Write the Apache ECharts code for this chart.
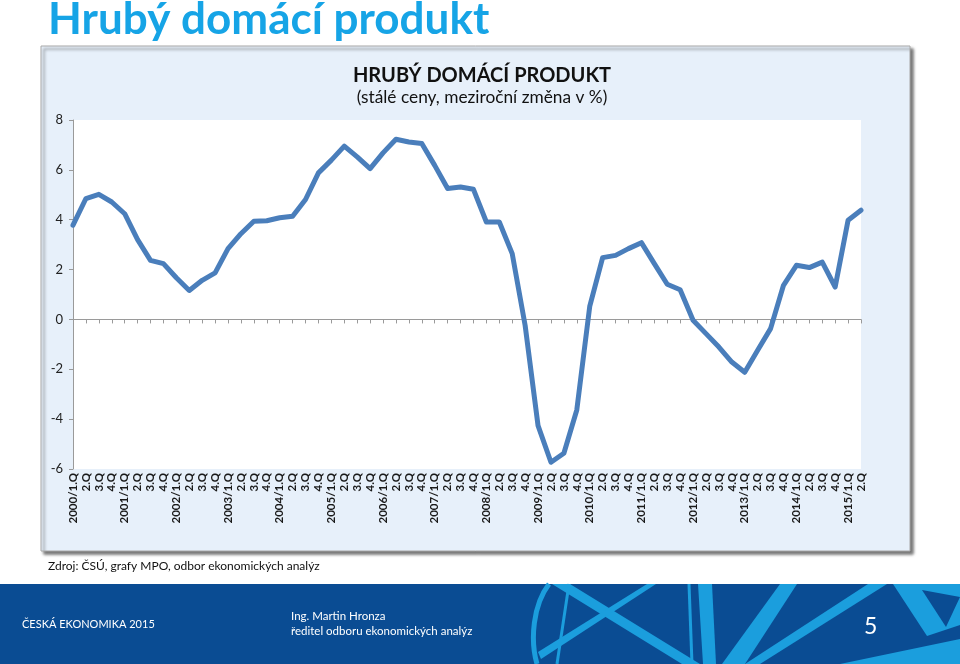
<!DOCTYPE html>
<html>
<head>
<meta charset="utf-8">
<script src="https://cdn.jsdelivr.net/npm/echarts@6/dist/echarts.min.js"></script>
<style>
html,body{margin:0;padding:0;background:#fff;}
#c{width:960px;height:664px;}
</style>
</head>
<body>
<div id="c"></div>
<script>
var categories = [
 '2000/1.Q','2.Q','3.Q','4.Q',
 '2001/1.Q','2.Q','3.Q','4.Q',
 '2002/1.Q','2.Q','3.Q','4.Q',
 '2003/1.Q','2.Q','3.Q','4.Q',
 '2004/1.Q','2.Q','3.Q','4.Q',
 '2005/1.Q','2.Q','3.Q','4.Q',
 '2006/1.Q','2.Q','3.Q','4.Q',
 '2007/1.Q','2.Q','3.Q','4.Q',
 '2008/1.Q','2.Q','3.Q','4.Q',
 '2009/1.Q','2.Q','3.Q','4.Q',
 '2010/1.Q','2.Q','3.Q','4.Q',
 '2011/1.Q','2.Q','3.Q','4.Q',
 '2012/1.Q','2.Q','3.Q','4.Q',
 '2013/1.Q','2.Q','3.Q','4.Q',
 '2014/1.Q','2.Q','3.Q','4.Q',
 '2015/1.Q','2.Q'
];
var gdpChange = [
 3.78, 4.85, 5.02, 4.71, 4.24, 3.2, 2.37, 2.24, 1.67, 1.16,
 1.57, 1.87, 2.84, 3.44, 3.94, 3.96, 4.08, 4.14, 4.81, 5.88,
 6.39, 6.95, 6.52, 6.05, 6.68, 7.23, 7.12, 7.06, 6.18, 5.25,
 5.31, 5.22, 3.91, 3.91, 2.64, -0.24, -4.26, -5.73, -5.37, -3.63,
 0.52, 2.48, 2.57, 2.84, 3.08, 2.24, 1.41, 1.19, -0.03, -0.57,
 -1.11, -1.71, -2.12, -1.24, -0.37, 1.37, 2.17, 2.08, 2.3, 1.3,
 3.98, 4.38
];
var yTicks = [-6, -4, -2, 0, 2, 4, 6, 8];
var slideTitle = 'Hrubý domácí produkt';
var chartTitle = 'HRUBÝ DOMÁCÍ PRODUKT';
var chartSubtitle = '(stálé ceny, meziroční změna v %)';
var sourceText = 'Zdroj: ČSÚ, grafy MPO, odbor ekonomických analýz';
var footerLeft = 'ČESKÁ EKONOMIKA 2015';
var footerName = 'Ing. Martin Hronza';
var footerRole = 'ředitel odboru ekonomických analýz';
var pageNo = '5';

var FONT = 'Lato, "Open Sans", sans-serif';
var chart = echarts.init(document.getElementById('c'), null, {renderer: 'canvas'});

var light = '#1B9EDD';
var graphics = [
  // chart box
  {type: 'rect', z: -10, shape: {x: 41, y: 46, width: 869, height: 505},
   style: {fill: '#E7F0FA', stroke: '#A8A8A8', lineWidth: 1,
     shadowColor: 'rgba(0,0,0,0.55)', shadowBlur: 3, shadowOffsetX: 3, shadowOffsetY: 3}},
  // slide title
  {type: 'text', left: 48, top: -2, style: {text: slideTitle, fill: '#16A4E6',
     font: 'bold 44px ' + FONT}},
  // source
  {type: 'text', left: 48, top: 560, style: {text: sourceText, fill: '#111',
     font: '12px ' + FONT}},
  // footer
  {type: 'rect', z: -5, shape: {x: 0, y: 584, width: 960, height: 80}, style: {fill: '#0A4C93'}},
  {type: 'bezierCurve', z: -4, shape: {x1: 549, y1: 584, x2: 537, y2: 664, cpx1: 533, cpy1: 605, cpx2: 530, cpy2: 640},
   style: {stroke: light, lineWidth: 5, fill: null}},
  {type: 'line', z: -4, shape: {x1: 569, y1: 584, x2: 557, y2: 664}, style: {stroke: light, lineWidth: 3}},
  {type: 'polygon', z: -4, shape: {points: [[552,584],[570,584],[700,664],[682,664]]}, style: {fill: light}},
  {type: 'polygon', z: -4, shape: {points: [[538,652],[647,584],[656,584],[541,659]]}, style: {fill: light}},
  {type: 'line', z: -4, shape: {x1: 689, y1: 584, x2: 692, y2: 664}, style: {stroke: light, lineWidth: 3}},
  {type: 'polygon', z: -4, shape: {points: [[698,584],[712,584],[716,664],[703,664]]}, style: {fill: light}},
  {type: 'polygon', z: -4, shape: {points: [[780,584],[797,584],[745,664],[722,664]]}, style: {fill: light}},
  {type: 'polygon', z: -4, shape: {points: [[868,584],[887,584],[760,664],[745,664]]}, style: {fill: light}},
  {type: 'polygon', z: -4, shape: {points: [[893,584],[960,584],[960,625],[927,636]]}, style: {fill: light}},
  {type: 'polygon', z: -3, shape: {points: [[922,590],[960,597],[946,627]]}, style: {fill: '#0A4C93'}},
  {type: 'polygon', z: -4, shape: {points: [[840,664],[960,664],[960,639]]}, style: {fill: light}},
  {type: 'text', left: 22, top: 619, style: {text: footerLeft, fill: '#fff', font: '11px ' + FONT}},
  {type: 'text', left: 291, top: 610, style: {text: footerName, fill: '#fff', font: '11.5px ' + FONT}},
  {type: 'text', left: 291, top: 625, style: {text: footerRole, fill: '#fff', font: '11.5px ' + FONT}},
  {type: 'text', left: 864, top: 615, style: {text: pageNo, fill: '#fff', font: '23px ' + FONT}}
];

var option = {
  animation: false,
  backgroundColor: '#fff',
  title: {
    text: chartTitle, subtext: chartSubtitle, left: 477, textAlign: 'center', top: 61, itemGap: 3,
    textStyle: {fontFamily: FONT, fontWeight: 'bold', fontSize: 20, color: '#111'},
    subtextStyle: {fontFamily: FONT, fontSize: 17.3, color: '#111'}
  },
  grid: {left: 73, top: 120, width: 788, height: 349, show: true, backgroundColor: '#fff', borderWidth: 0},
  xAxis: [
    {type: 'category', data: categories, boundaryGap: false,
     axisLine: {onZero: true, lineStyle: {color: '#9A9A9A', width: 1}},
     axisTick: {show: true, interval: 0, length: 4, lineStyle: {color: '#9A9A9A'}},
     axisLabel: {show: false}, splitLine: {show: false}},
    {type: 'category', data: categories, boundaryGap: false, position: 'bottom',
     axisLine: {show: false, onZero: false}, axisTick: {show: false},
     axisLabel: {show: true, interval: 0, rotate: 90, margin: 4, fontFamily: FONT, fontSize: 11.5,
       fontWeight: 'bold', color: '#1a1a1a'}}
  ],
  yAxis: {
    type: 'value', min: yTicks[0], max: yTicks[yTicks.length - 1], interval: 2,
    axisLine: {show: true, lineStyle: {color: '#9A9A9A'}},
    axisTick: {show: true, length: 4, lineStyle: {color: '#9A9A9A'}},
    axisLabel: {fontFamily: FONT, fontSize: 13, color: '#222', margin: 10},
    splitLine: {show: false}
  },
  series: [{
    type: 'line', data: gdpChange, xAxisIndex: 0, showSymbol: false, symbol: 'none',
    lineStyle: {color: '#4A7EBB', width: 5, join: 'round', cap: 'round'}
  }],
  graphic: graphics
};
chart.setOption(option);
</script>
</body>
</html>
